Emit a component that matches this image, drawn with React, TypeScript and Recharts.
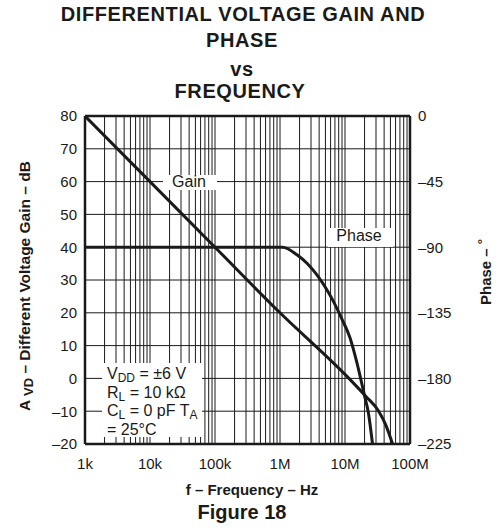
import React from "react";
import {
  ComposedChart,
  Line,
  XAxis,
  YAxis,
  CartesianGrid,
  ReferenceLine,
} from "recharts";

// ---------- data ----------
const decadeTicks = [1e3, 1e4, 1e5, 1e6, 1e7, 1e8];
const decadeLabels = ["1k", "10k", "100k", "1M", "10M", "100M"];

const gainTicks = [-20, -10, 0, 10, 20, 30, 40, 50, 60, 70, 80];
const phaseTicks = [-225, -180, -135, -90, -45, 0];

const gainFreq = [1e3, 1e5, 1e6, 1.15e7, 2.1e7, 3.3e7, 4.2e7, 5.4e7];
const gainDb = [80, 40, 20, 0, -5.5, -10, -14, -20];

const phaseFreq = [1e3, 1.1e6, 1.8e6, 2.6e6, 3.7e6, 4.9e6, 6.6e6, 8.9e6, 1.19e7, 1.5e7, 2.0e7, 2.3e7, 2.65e7];
const phaseDeg = [-90, -90, -95, -101, -109, -117, -127, -139, -152, -168, -192, -204, -225];

// ---------- derived ----------
const minorTicks: number[] = [];
for (let d = 3; d < 8; d++) {
  for (let m = 1; m <= 9; m++) minorTicks.push(m * Math.pow(10, d));
}
minorTicks.push(1e8);

const gainData = gainFreq.map((f, i) => ({ f, gain: gainDb[i] }));
const phaseData = phaseFreq.map((f, i) => ({ f, phase: phaseDeg[i] }));

const FONT = "'Liberation Sans', Arial, Helvetica, sans-serif";
const INK = "#1a1a1a";

const fmtX = (v: number) => {
  const idx = decadeTicks.findIndex((t) => Math.abs(t - v) / t < 1e-6);
  return idx >= 0 ? decadeLabels[idx] : "";
};
const fmtNeg = (v: number) => (v < 0 ? "\u2013" + Math.abs(v) : String(v));

const abs = (style: React.CSSProperties): React.CSSProperties => ({
  position: "absolute",
  whiteSpace: "nowrap",
  color: INK,
  fontFamily: FONT,
  ...style,
});

const centered = (x: number, y: number, style: React.CSSProperties, children: React.ReactNode, rotate = 0) => (
  <div
    style={abs({
      left: x,
      top: y,
      transform: `translate(-50%, -50%)${rotate ? ` rotate(${rotate}deg)` : ""}`,
      lineHeight: 1,
      ...style,
    })}
  >
    {children}
  </div>
);

const Sub = ({ children, size = 12, drop = 3 }: { children: React.ReactNode; size?: number; drop?: number }) => (
  <span style={{ fontSize: size, position: "relative", top: drop, lineHeight: 0 }}>{children}</span>
);

export default function App() {
  const titleStyle: React.CSSProperties = { fontSize: 20, fontWeight: "bold", letterSpacing: 0.6 };
  return (
    <div style={{ position: "absolute", left: 0, top: 0, width: 499, height: 529, background: "#fff", fontFamily: FONT }}>
      <ComposedChart width={499} height={529} margin={{ top: 116, right: 0, bottom: 0, left: 0 }}>
        <CartesianGrid yAxisId="left" stroke={INK} strokeWidth={1} strokeOpacity={1} />
        <XAxis
          dataKey="f"
          type="number"
          scale="log"
          domain={[1e3, 1e8]}
          allowDataOverflow
          ticks={minorTicks}
          interval={0}
          tickFormatter={fmtX}
          tickLine={false}
          axisLine={false}
          tickMargin={8}
          height={85}
          tick={{ fill: INK, fontSize: 15, fontFamily: FONT }}
        />
        <YAxis
          yAxisId="left"
          type="number"
          domain={[-20, 80]}
          ticks={gainTicks}
          interval={0}
          tickFormatter={fmtNeg}
          tickLine={false}
          axisLine={false}
          width={85}
          tick={{ fill: INK, fontSize: 15, fontFamily: FONT }}
        />
        <YAxis
          yAxisId="right"
          orientation="right"
          type="number"
          domain={[-225, 0]}
          ticks={phaseTicks}
          interval={0}
          tickFormatter={fmtNeg}
          tickLine={false}
          axisLine={false}
          width={89}
          tick={{ fill: INK, fontSize: 15, fontFamily: FONT, textAnchor: "start" }}
        />
        <ReferenceLine yAxisId="left" x={1e3} stroke={INK} strokeWidth={2.5} />
        <ReferenceLine yAxisId="left" x={1e8} stroke={INK} strokeWidth={2.5} />
        <ReferenceLine yAxisId="left" y={80} stroke={INK} strokeWidth={2.5} />
        <ReferenceLine yAxisId="left" y={-20} stroke={INK} strokeWidth={2.5} />
        <Line
          yAxisId="left"
          data={gainData}
          dataKey="gain"
          type="monotone"
          stroke={INK}
          strokeWidth={3}
          dot={false}
          isAnimationActive={false}
        />
        <Line
          yAxisId="right"
          data={phaseData}
          dataKey="phase"
          type="monotone"
          stroke={INK}
          strokeWidth={3}
          dot={false}
          isAnimationActive={false}
        />
      </ComposedChart>

      {/* titles */}
      {centered(243, 14, titleStyle, "DIFFERENTIAL VOLTAGE GAIN AND")}
      {centered(242, 40, titleStyle, "PHASE")}
      {centered(242, 69, titleStyle, "vs")}
      {centered(240, 91, titleStyle, "FREQUENCY")}

      {/* in-plot labels */}
      <div style={abs({ left: 163, top: 175, width: 54, height: 15, background: "#fff" })} />
      {centered(189, 182, { fontSize: 16 }, "Gain")}
      <div style={abs({ left: 328, top: 228, width: 65, height: 19, background: "#fff" })} />
      {centered(359, 236, { fontSize: 16 }, "Phase")}

      {/* conditions box */}
      <div
        style={abs({
          left: 102,
          top: 363,
          width: 100,
          height: 74,
          background: "#fff",
          fontSize: 16,
          lineHeight: "18.5px",
          paddingLeft: 5,
          paddingTop: 2,
          boxSizing: "border-box",
        })}
      >
        <div>
          V<Sub>DD</Sub> = ±6 V
        </div>
        <div>
          R<Sub>L</Sub> = 10 kΩ
        </div>
        <div>
          C<Sub>L</Sub> = 0 pF T<Sub>A</Sub>
        </div>
        <div>= 25°C</div>
      </div>

      {/* axis titles */}
      {centered(
        25,
        286,
        { fontSize: 15.5, fontWeight: "bold" },
        <span>
          A <Sub size={13} drop={3}>VD</Sub> – Different Voltage Gain – dB
        </span>,
        -90
      )}
      {centered(
        485,
        272,
        { fontSize: 15, fontWeight: "bold" },
        <span>
          Phase – <Sub size={13} drop={-4}>°</Sub>
        </span>,
        -90
      )}
      {centered(252, 489, { fontSize: 15, fontWeight: "bold" }, "f – Frequency – Hz")}
      {centered(242, 512, { fontSize: 20, fontWeight: "bold" }, "Figure 18")}
    </div>
  );
}
